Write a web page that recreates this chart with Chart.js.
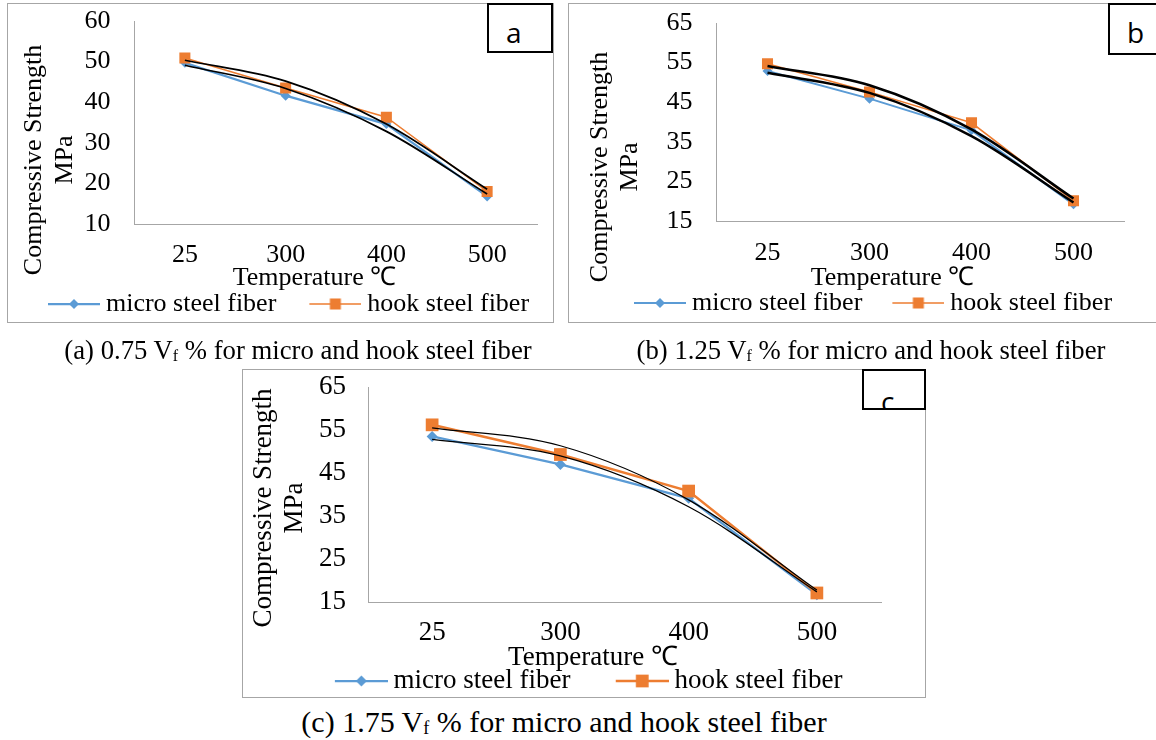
<!DOCTYPE html>
<html>
<head>
<meta charset="utf-8">
<script src="https://cdn.jsdelivr.net/npm/chart.js@4.4.1/dist/chart.umd.min.js"></script>
<style>
  body { margin: 0; width: 1156px; height: 740px; background: #fff; position: relative; overflow: hidden;
         font-family: "Liberation Serif", "Times New Roman", serif; color: #000; }
  .frame { position: absolute; border: 1px solid #a6a6a6; box-sizing: border-box; }
  canvas { position: absolute; }
  .tag { position: absolute; border: 2px solid #000; background: #fff; box-sizing: border-box; overflow: hidden; z-index: 2; }
  .tag span { position: absolute; left: 17px; top: 8px; font: 28px "Open Sans", "Noto Sans", sans-serif; }
  .cap { position: absolute; white-space: nowrap; transform: translateX(-50%); }
  .cap sub { font-size: 0.6em; vertical-align: -2px; }
</style>
</head>
<body>
<div class="frame" style="left:7px;top:3px;width:547px;height:320px"></div>
<div class="frame" style="left:568px;top:3px;width:600px;height:320px"></div>
<div class="frame" style="left:242px;top:369px;width:684px;height:329px"></div>

<canvas id="chartA"></canvas>
<canvas id="chartB"></canvas>
<canvas id="chartC"></canvas>

<div class="tag" style="left:487px;top:3px;width:66px;height:50px"><span>a</span></div>
<div class="tag" style="left:1108px;top:3px;width:60px;height:52px"><span>b</span></div>
<div class="tag" style="left:862px;top:369px;width:64px;height:41px"><span style="top:11px">c</span></div>

<div class="cap" style="left:298px;top:335px;font-size:26.7px;line-height:30px">(a) 0.75 V<sub>f</sub> % for micro and hook steel fiber</div>
<div class="cap" style="left:871px;top:335px;font-size:26.7px;line-height:30px">(b) 1.25 V<sub>f</sub> % for micro and hook steel fiber</div>
<div class="cap" style="left:564px;top:705px;font-size:30px;line-height:34px">(c) 1.75 V<sub>f</sub> % for micro and hook steel fiber</div>

<script>
const categories = ['25', '300', '400', '500'];
const seriesNames = ['micro steel fiber', 'hook steel fiber'];

const microA = [49.7, 41.6, 34.6, 16.8];
const hookA  = [50.9, 43.5, 36.3, 18.0];
const microB = [52.9, 45.9, 37.9, 19.2];
const hookB  = [54.7, 47.6, 39.8, 20.1];
const microC = [53.5, 47.0, 39.1, 16.7];
const hookC  = [56.2, 49.3, 40.8, 17.1];

const yTicksA = [10, 20, 30, 40, 50, 60];
const yTicksB = [15, 25, 35, 45, 55, 65];
const yTicksC = [15, 25, 35, 45, 55, 65];

const xTitle = 'Temperature ℃';
const yTitle = ['Compressive Strength', 'MPa'];

const BLUE = '#5b9bd5';
const ORANGE = '#ed7d31';
const AXIS = '#a6a6a6';
const SERIF = '"Liberation Serif", "Times New Roman", serif';

Chart.defaults.font.family = SERIF;
Chart.defaults.color = '#000';

// 2nd order least squares over the category index (what an Excel poly trendline does)
function polyFit2(ys) {
  const xs = ys.map((_, i) => i + 1);
  const s = [0, 0, 0, 0, 0], t = [0, 0, 0];
  xs.forEach((x, i) => {
    for (let k = 0; k < 5; k++) s[k] += x ** k;
    for (let k = 0; k < 3; k++) t[k] += x ** k * ys[i];
  });
  const m = [[s[0], s[1], s[2], t[0]], [s[1], s[2], s[3], t[1]], [s[2], s[3], s[4], t[2]]];
  for (let c = 0; c < 3; c++) {
    for (let r = c + 1; r < 3; r++) {
      const f = m[r][c] / m[c][c];
      for (let k = c; k < 4; k++) m[r][k] -= f * m[c][k];
    }
  }
  const co = [0, 0, 0];
  for (let r = 2; r >= 0; r--) {
    let v = m[r][3];
    for (let k = r + 1; k < 3; k++) v -= m[r][k] * co[k];
    co[r] = v / m[r][r];
  }
  return xs.map(x => co[0] + co[1] * x + co[2] * x * x);
}

// line + marker swatch for the legend, drawn at the right end of a wider transparent image
function legendMark(iw, len, color, lw, style, r) {
  const c = document.createElement('canvas');
  c.width = iw; c.height = 20;
  const g = c.getContext('2d');
  const mx = iw - len / 2;
  g.strokeStyle = color; g.lineWidth = lw;
  g.beginPath(); g.moveTo(iw - len, 10); g.lineTo(iw, 10); g.stroke();
  g.fillStyle = color;
  g.beginPath();
  if (style === 'rectRot') {
    g.moveTo(mx - r, 10); g.lineTo(mx, 10 - r); g.lineTo(mx + r, 10); g.lineTo(mx, 10 + r);
  } else {
    const h = r * Math.SQRT1_2;
    g.rect(mx - h, 10 - h, 2 * h, 2 * h);
  }
  g.closePath(); g.fill();
  return c;
}

const axisTitles = {
  id: 'axisTitles',
  afterDraw(chart, args, o) {
    const ctx = chart.ctx;
    ctx.save();
    ctx.font = o.size + 'px ' + SERIF;
    ctx.fillStyle = '#000';
    ctx.textAlign = 'center';
    ctx.textBaseline = 'middle';
    ctx.fillText(xTitle, o.xPos[0], o.xPos[1]);
    yTitle.forEach((t, i) => {
      ctx.save();
      ctx.translate(o.yPos[i], o.yMid);
      ctx.rotate(-Math.PI / 2);
      ctx.fillText(t, 0, 0);
      ctx.restore();
    });
    ctx.restore();
  }
};

// o holds page coordinates; the canvas is centred on the legend
function buildChart(id, o) {
  const fs = o.font, W = o.width, pad = 10;
  const ov = fs / 2 - 6;                      // swatch runs to 6px before its text
  const bw = o.visGap - pad - ov + o.swatch;  // legend box width that gives the item gap
  const boxStart = o.swatchStart - bw - ov + o.swatch;
  const legendX = (boxStart + o.textEnd) / 2;
  const cx = legendX - W / 2, cy = o.top;
  const legendBottom = o.legendY + fs / 2 + 10;
  const H = Math.ceil(legendBottom - cy);
  const legendTop = o.legendY - pad - fs / 2;
  const p = o.plot;
  const canvas = document.getElementById(id);
  canvas.width = W; canvas.height = H;
  canvas.style.left = cx + 'px'; canvas.style.top = cy + 'px';

  const iw = Math.round(bw + 2 * ov);
  const marks = [
    legendMark(iw, o.swatch, BLUE, o.microW, 'rectRot', o.diamondR),
    legendMark(iw, o.swatch, ORANGE, o.hookW, 'rect', o.squareR)
  ];

  new Chart(canvas, {
    type: 'line',
    data: {
      labels: categories,
      datasets: [
        { label: seriesNames[0], data: o.micro, borderColor: BLUE, backgroundColor: BLUE,
          borderWidth: o.microW, pointStyle: 'rectRot', pointRadius: o.diamondR, pointBorderWidth: 0, order: 2 },
        { label: seriesNames[1], data: o.hook, borderColor: ORANGE, backgroundColor: ORANGE,
          borderWidth: o.hookW, pointStyle: 'rect', pointRadius: o.squareR, pointBorderWidth: 0, order: 1 },
        { label: 'trend', data: polyFit2(o.micro), borderColor: '#000', borderWidth: o.trendW,
          pointRadius: 0, cubicInterpolationMode: 'monotone', order: 0 },
        { label: 'trend', data: polyFit2(o.hook), borderColor: '#000', borderWidth: o.trendW,
          pointRadius: 0, cubicInterpolationMode: 'monotone', order: 0 }
      ]
    },
    options: {
      responsive: false,
      animation: false,
      events: [],
      layout: { padding: { left: 0, right: 0, top: p.top - cy, bottom: H - (legendBottom - cy) } },
      scales: {
        x: {
          offset: true,
          grid: { display: false, drawTicks: false },
          border: { display: true, color: AXIS, width: 1 },
          ticks: { autoSkip: false, font: { size: fs, family: SERIF }, color: '#000',
                   padding: o.xTickY - p.bottom - fs * 0.6 },
          afterFit: s => { s.height = legendTop - p.bottom; }
        },
        y: {
          min: o.yTicks[0],
          max: o.yTicks[o.yTicks.length - 1],
          grid: { display: false, drawTicks: true, tickLength: o.yTickPad },
          border: { display: true, color: AXIS, width: 1 },
          ticks: { autoSkip: false, font: { size: fs, family: SERIF }, color: '#000', padding: 0 },
          afterBuildTicks: s => { s.ticks = o.yTicks.map(v => ({ value: v })); },
          afterFit: s => { s.width = p.left - cx; }
        },
        right: {
          position: 'right',
          grid: { display: false, drawTicks: false },
          border: { display: false },
          ticks: { display: false },
          afterFit: s => { s.width = cx + W - p.right; }
        }
      },
      plugins: {
        tooltip: { enabled: false },
        legend: {
          position: 'bottom',
          labels: {
            usePointStyle: true,
            pointStyleWidth: bw,
            padding: pad,
            color: '#000',
            font: { size: fs, family: SERIF },
            generateLabels(chart) {
              return Chart.defaults.plugins.legend.labels.generateLabels(chart)
                .filter(l => l.datasetIndex < 2)
                .sort((a, b) => a.datasetIndex - b.datasetIndex)
                .map(l => Object.assign(l, { pointStyle: marks[l.datasetIndex] }));
            }
          }
        },
        axisTitles: {
          size: fs,
          xPos: [o.xTitle[0] - cx, o.xTitle[1] - cy],
          yPos: o.yTitleX.map(v => v - cx),
          yMid: o.yTitleY - cy
        }
      }
    },
    plugins: [axisTitles]
  });
}

buildChart('chartA', {
  width: 560, top: 4, font: 26,
  plot: { left: 134, right: 537, top: 21, bottom: 224 },
  micro: microA, hook: hookA, yTicks: yTicksA,
  yTickPad: 24, xTickY: 255, legendY: 304,
  swatch: 52, swatchStart: 45, visGap: 33, textEnd: 531,
  xTitle: [314, 278], yTitleX: [34, 65], yTitleY: 160,
  microW: 2.25, hookW: 1.5, trendW: 1.75, diamondR: 5, squareR: 7.8
});

buildChart('chartB', {
  width: 580, top: 4, font: 26,
  plot: { left: 716, right: 1124, top: 23, bottom: 221 },
  micro: microB, hook: hookB, yTicks: yTicksB,
  yTickPad: 24, xTickY: 253, legendY: 303,
  swatch: 52, swatchStart: 630, visGap: 30, textEnd: 1115,
  xTitle: [892, 278], yTitleX: [600, 630], yTitleY: 167,
  microW: 2, hookW: 1.5, trendW: 2.5, diamondR: 5, squareR: 7.8
});

buildChart('chartC', {
  width: 660, top: 370, font: 27,
  plot: { left: 368, right: 881, top: 387, bottom: 602 },
  micro: microC, hook: hookC, yTicks: yTicksC,
  yTickPad: 22, xTickY: 633, legendY: 681,
  swatch: 53, swatchStart: 337, visGap: 45, textEnd: 840,
  xTitle: [593, 658], yTitleX: [264, 295], yTitleY: 508,
  microW: 2.25, hookW: 2.5, trendW: 1.25, diamondR: 5.5, squareR: 9
});
</script>
</body>
</html>
